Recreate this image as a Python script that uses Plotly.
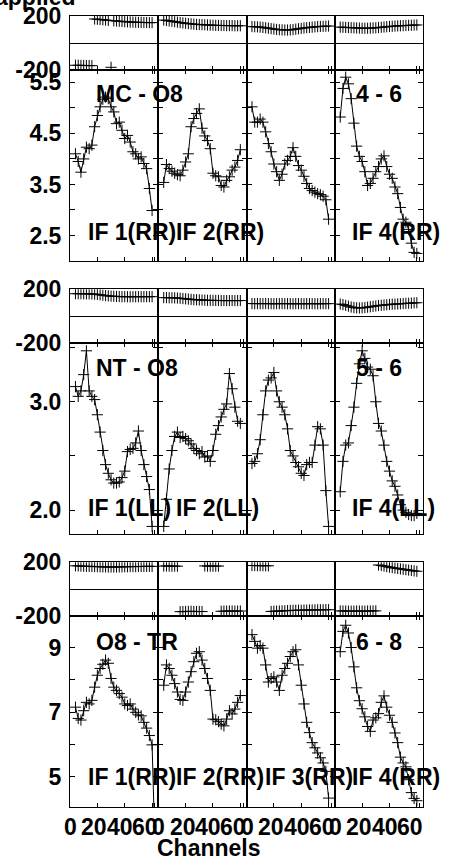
import plotly.graph_objects as go

# channel numbers (every second channel)
CH = list(range(4, 63, 2))

# ---- baseline MC - O8 / 4 - 6, RR ----
AMP_MC_O8_IF1 = [4.10, 3.95, 3.74, 4.00, 4.23, 4.20, 4.27, 4.63, 4.85, 5.02, 5.17, 5.21, 5.18, 5.02, 4.92,
                 4.69, 4.72, 4.56, 4.40, 4.46, 4.33, 4.14, 4.10, 4.00, 4.04, 3.91, 3.81, 3.42, 2.99]
AMP_MC_O8_IF2 = [3.54, 3.89, 3.81, 3.76, 3.72, 3.69, 3.67, 3.78, 3.94, 4.10, 4.63, 4.79, 4.89, 4.98, 4.60,
                 4.45, 4.36, 4.20, 3.72, 3.67, 3.65, 3.48, 3.45, 3.58, 3.65, 3.78, 3.84, 3.97, 4.18]
AMP_MC_O8_IF3 = [5.02, 4.72, 4.72, 4.78, 4.72, 4.53, 4.30, 4.14, 3.90, 3.75, 3.58, 3.70, 3.90, 3.97, 4.05,
                 4.22, 4.05, 3.87, 3.78, 3.66, 3.52, 3.42, 3.38, 3.35, 3.32, 3.30, 3.27, 3.20, 2.82]
AMP_4_6_IF4 = [4.82, 5.38, 5.60, 5.47, 5.18, 4.70, 4.25, 4.05, 3.95, 3.75, 3.48, 3.52, 3.62, 3.75, 3.85,
               4.00, 4.06, 3.85, 3.70, 3.62, 3.45, 3.32, 3.05, 2.82, 2.76, 2.62, 2.35, 2.17, 2.15]
PH_MC_O8_IF1 = [-163, -163, -164, -164, -165, -165, -166, 178, 176, 174, 172, 170, 168, -178, 165,
                163, 161, 160, 158, 157, 156, 155, 154, 153, 153, 152, 152, 151, 151]
PH_MC_O8_IF2 = [170, 167, 164, 161, 158, 155, 152, 149, 146, 144, 142, 140, 138, 137, 136,
                135, 134, 133, 132, 131, 131, 130, 130, 129, 129, 129, 128, 128, 128]
PH_MC_O8_IF3 = [122, 121, 120, 118, 116, 113, 110, 107, 104, 101, 99, 98, 97, 97, 98,
                100, 103, 106, 109, 112, 114, 116, 118, 120, 122, 123, 124, 125, 126]
PH_4_6_IF4 = [118, 117, 116, 115, 114, 113, 112, 111, 110, 110, 110, 111, 112, 113, 115,
              117, 119, 121, 123, 124, 126, 127, 128, 129, 130, 131, 132, 133, 134]

# ---- baseline NT - O8 / 5 - 6, LL ----
AMP_NT_O8_IF1 = [3.14, 3.05, 3.10, 3.25, 3.47, 3.10, 3.05, 3.02, 2.88, 2.72, 2.55, 2.42, 2.34, 2.28, 2.25,
                 2.25, 2.26, 2.30, 2.36, 2.54, 2.56, 2.57, 2.62, 2.73, 2.55, 2.42, 2.31, 2.19, 1.85]
AMP_NT_O8_IF2 = [1.85, 2.10, 2.38, 2.55, 2.68, 2.72, 2.67, 2.68, 2.66, 2.64, 2.61, 2.57, 2.55, 2.52, 2.54,
                 2.49, 2.50, 2.45, 2.55, 2.70, 2.78, 2.86, 2.93, 2.98, 3.26, 3.12, 2.95, 2.82, 2.80]
AMP_NT_O8_IF3 = [2.43, 2.45, 2.52, 2.65, 2.88, 3.10, 3.20, 3.22, 3.27, 3.10, 3.00, 2.95, 2.88, 2.75, 2.55,
                 2.50, 2.44, 2.40, 2.34, 2.32, 2.42, 2.44, 2.44, 2.60, 2.77, 2.75, 2.60, 2.18, 1.85]
AMP_5_6_IF4 = [2.17, 2.45, 2.60, 2.62, 2.78, 2.95, 3.17, 3.35, 3.47, 3.40, 3.32, 3.30, 3.24, 3.00, 2.80,
               2.73, 2.60, 2.45, 2.36, 2.27, 2.22, 2.14, 2.05, 2.00, 1.98, 1.96, 1.95, 1.95, 1.97]
PH_NT_O8_IF1 = [167, 167, 167, 167, 166, 166, 165, 164, 162, 159, 156, 153, 151, 149, 148,
                147, 146, 145, 145, 145, 144, 145, 145, 145, 145, 145, 145, 145, 145]
PH_NT_O8_IF2 = [138, 138, 137, 137, 136, 135, 133, 131, 129, 127, 125, 123, 122, 121, 120,
                119, 118, 118, 117, 117, 117, 116, 116, 116, 116, 116, 116, 116, 116]
PH_NT_O8_IF3 = [94, 93, 94, 93, 93, 94, 93, 93, 92, 93, 93, 94, 93, 93, 93,
                92, 93, 93, 93, 92, 93, 93, 93, 93, 92, 93, 93, 93, 93]
PH_5_6_IF4 = [90, 86, 80, 74, 68, 64, 62, 61, 62, 64, 67, 70, 73, 76, 79,
              81, 83, 85, 87, 89, 90, 91, 92, 94, 95, 96, 97, 99, 100]

# ---- baseline O8 - TR / 6 - 8, RR ----
AMP_O8_TR_IF1 = [7.15, 6.80, 6.75, 7.04, 7.30, 7.25, 7.36, 7.77, 8.14, 8.35, 8.48, 8.61, 8.51, 8.04, 7.77,
                 7.67, 7.57, 7.46, 7.25, 7.20, 7.25, 7.09, 6.99, 6.91, 6.88, 6.68, 6.50, 6.27, 5.98, 3.00]
AMP_O8_TR_IF2 = [7.83, 8.46, 8.35, 8.14, 7.88, 7.62, 7.39, 7.36, 7.62, 7.93, 8.25, 8.56, 8.82, 8.87, 8.61,
                 8.35, 8.04, 7.67, 6.78, 6.76, 6.70, 6.62, 6.57, 6.78, 7.04, 6.94, 7.09, 7.30, 7.51]
AMP_O8_TR_IF3 = [9.40, 9.19, 8.98, 9.06, 8.98, 8.46, 7.93, 8.04, 8.09, 7.93, 7.67, 8.14, 8.35, 8.51, 8.72,
                 8.87, 8.93, 8.46, 7.83, 7.25, 6.68, 6.36, 6.05, 5.89, 5.73, 5.58, 5.42, 5.16, 4.33]
AMP_6_8_IF4 = [8.87, 9.50, 9.69, 9.45, 9.00, 8.40, 7.75, 7.35, 7.10, 6.85, 6.55, 6.40, 6.75, 6.82, 6.95,
               7.30, 7.50, 7.15, 6.90, 6.68, 6.35, 6.05, 5.60, 5.42, 5.30, 4.90, 4.50, 4.32, 4.25]
PH_O8_TR_IF1 = [174, 173, 172, 171, 170, 170, 169, 168, 168, 167, 166, 166, 165, 165, 165,
                165, 166, 166, 167, 167, 168, 168, 168, 169, 169, 169, 170, 170, 170]
PH_O8_TR_IF2 = [172, 173, 172, 171, 172, 171, -168, -167, -166, -166, -165, -166, -167, -166, -167,
                173, 172, 172, 171, 172, 172, -165, -164, -164, -163, -163, -164, -163, -163]
PH_O8_TR_IF3 = [176, 176, 175, 175, 175, 174, 174, -166, -165, -164, -163, -162, -161, -160, -159,
                -158, -158, -157, -157, -156, -156, -155, -155, -155, -154, -154, -154, -153, -153]
PH_6_8_IF4 = [-162, -163, -163, -164, -164, -164, -163, -163, -164, -164, -163, -163, -162, -162, 180,
              176, 172, 168, 164, 160, 157, 154, 151, 148, 145, 142, 139, 136, 133]

# axis ticks / labels
X_TICKS = [0, 20, 40, 60, 62]
X_LABEL_VALS = [0, 20, 40, 60]
X_LABELS = ["0", "20", "40", "60"]
PH_TICKS = [-200, 200]
PH_LABELS = ["-200", "200"]
AMP_TICKS = [[2.5, 3.0, 3.5, 4.0, 4.5, 5.0, 5.5],
             [2.0, 2.5, 3.0, 3.5],
             [5, 6, 7, 8, 9]]
AMP_LABELS = [["2.5", "", "3.5", "", "4.5", "", "5.5"],
              ["2.0", "", "3.0", ""],
              ["5", "", "7", "", "9"]]
AMP_RANGES = [[2.007, 5.735], [1.78, 3.542], [4.054, 9.977]]

GROUPS = [
    dict(left="MC - O8", right="4 - 6",
         amp=[AMP_MC_O8_IF1, AMP_MC_O8_IF2, AMP_MC_O8_IF3, AMP_4_6_IF4],
         ph=[PH_MC_O8_IF1, PH_MC_O8_IF2, PH_MC_O8_IF3, PH_4_6_IF4],
         ifs=["IF 1(RR)", "IF 2(RR)", None, "IF 4(RR)"]),
    dict(left="NT - O8", right="5 - 6",
         amp=[AMP_NT_O8_IF1, AMP_NT_O8_IF2, AMP_NT_O8_IF3, AMP_5_6_IF4],
         ph=[PH_NT_O8_IF1, PH_NT_O8_IF2, PH_NT_O8_IF3, PH_5_6_IF4],
         ifs=["IF 1(LL)", "IF 2(LL)", None, "IF 4(LL)"]),
    dict(left="O8 - TR", right="6 - 8",
         amp=[AMP_O8_TR_IF1, AMP_O8_TR_IF2, AMP_O8_TR_IF3, AMP_6_8_IF4],
         ph=[PH_O8_TR_IF1, PH_O8_TR_IF2, PH_O8_TR_IF3, PH_6_8_IF4],
         ifs=["IF 1(RR)", "IF 2(RR)", "IF 3(RR)", "IF 4(RR)"]),
]

# page geometry (pixels)
W, H = 457, 860
L, R, T, B = 70, 34, 16, 53
PW, PH = W - L - R, H - T - B
ROW_EDGES = [(16, 70.3), (70.3, 260.7), (289.3, 343), (343, 534), (562.3, 616), (616, 807)]
IF_LEFT = [85.5, 174.3, 263, 349.5]
PAIR_LEFT = [93.5, 353.5]
PAIR_Y = [94.5, 368.3, 641.5]
IF_Y = [232, 507.5, 777]
X_LABEL_SHIFT = [0.5, -3, -4.5, -7]   # the original prints its channel numbers a little left
X_LABEL_Y = 826.5


def fx(px):
    return (px - L) / PW


def fy(py):
    return (H - B - py) / PH


FONT = dict(family="Liberation Sans, Arial, sans-serif", size=23, color="black", weight="bold")
marker = dict(symbol="cross-thin", size=8, color="black", line=dict(width=1, color="black"))

fig = go.Figure()
layout = {}
ann = []


def names(n):
    if n == 1:
        return "x", "y", "xaxis", "yaxis"
    return "x%d" % n, "y%d" % n, "xaxis%d" % n, "yaxis%d" % n


for g, grp in enumerate(GROUPS):
    for c in range(4):
        for kind in ("ph", "amp"):
            row = 2 * g + (0 if kind == "ph" else 1)
            n = row * 4 + c + 1
            xs, ys, xk, yk = names(n)
            vals = grp[kind][c]
            fig.add_trace(go.Scatter(
                x=CH[:len(vals)], y=vals, xaxis=xs, yaxis=ys,
                mode="markers" if kind == "ph" else "lines+markers",
                marker=marker, line=dict(color="black", width=1),
                showlegend=False, hoverinfo="skip"))
            top, bot = ROW_EDGES[row]
            layout[xk] = dict(
                domain=[c / 4, (c + 1) / 4], anchor=ys, range=[0, 64.5],
                showline=True, linecolor="black", linewidth=1,
                mirror=True if kind == "ph" else "ticks",
                ticks="inside", ticklen=4, tickcolor="black", tickwidth=1,
                tickvals=X_TICKS, showticklabels=False,
                showgrid=False, zeroline=False)
            if row == 5:
                # channel numbers under the bottom row, placed on this axis' own scale
                for v, lab, sh in zip(X_LABEL_VALS, X_LABELS, X_LABEL_SHIFT):
                    ann.append(dict(text=lab, x=v, xref=xs, xshift=sh,
                                    y=fy(X_LABEL_Y), yref="paper",
                                    xanchor="center", yanchor="middle",
                                    showarrow=False, font=FONT))
            if kind == "ph":
                layout[yk] = dict(
                    domain=[fy(bot), fy(top)], anchor=xs, range=[-200, 200],
                    showline=True, linecolor="black", linewidth=1, mirror=True,
                    ticks="", tickvals=PH_TICKS, ticktext=PH_LABELS,
                    showticklabels=(c == 0), ticklabelstandoff=3,
                    showgrid=False, zeroline=True, zerolinecolor="black", zerolinewidth=1,
                    tickfont=FONT)
            else:
                layout[yk] = dict(
                    domain=[fy(bot), fy(top)], anchor=xs, range=AMP_RANGES[g],
                    showline=True, linecolor="black", linewidth=1, mirror="ticks",
                    ticks="inside", ticklen=5, tickcolor="black", tickwidth=1,
                    tickvals=AMP_TICKS[g], ticktext=AMP_LABELS[g],
                    showticklabels=(c == 0), ticklabelstandoff=3,
                    showgrid=False, zeroline=False, tickfont=FONT)

for g, grp in enumerate(GROUPS):
    labels = [(grp["left"], PAIR_LEFT[0], PAIR_Y[g]), (grp["right"], PAIR_LEFT[1], PAIR_Y[g])]
    labels += [(lab, IF_LEFT[c], IF_Y[g]) for c, lab in enumerate(grp["ifs"]) if lab]
    for text, x, y in labels:
        ann.append(dict(text=text, x=fx(x), y=fy(y), xref="paper", yref="paper",
                        xanchor="left", yanchor="middle", showarrow=False, font=FONT))
ann.append(dict(text="Channels", x=fx(209), y=fy(848), xref="paper", yref="paper",
                xanchor="center", yanchor="middle", showarrow=False, font=FONT))
ann.append(dict(text="applied", x=fx(78), y=fy(-3), xref="paper", yref="paper",
                xanchor="right", yanchor="middle", showarrow=False, font=FONT))

fig.update_layout(
    width=W, height=H, margin=dict(l=L, r=R, t=T, b=B, autoexpand=False),
    paper_bgcolor="white", plot_bgcolor="white", font=FONT,
    annotations=ann, showlegend=False, **layout)

# drop the browser's default 8px page margin so the figure sits at the corner
fig.write_html("out.html", config={"displayModeBar": False},
               post_script="document.body.style.margin='0';")
